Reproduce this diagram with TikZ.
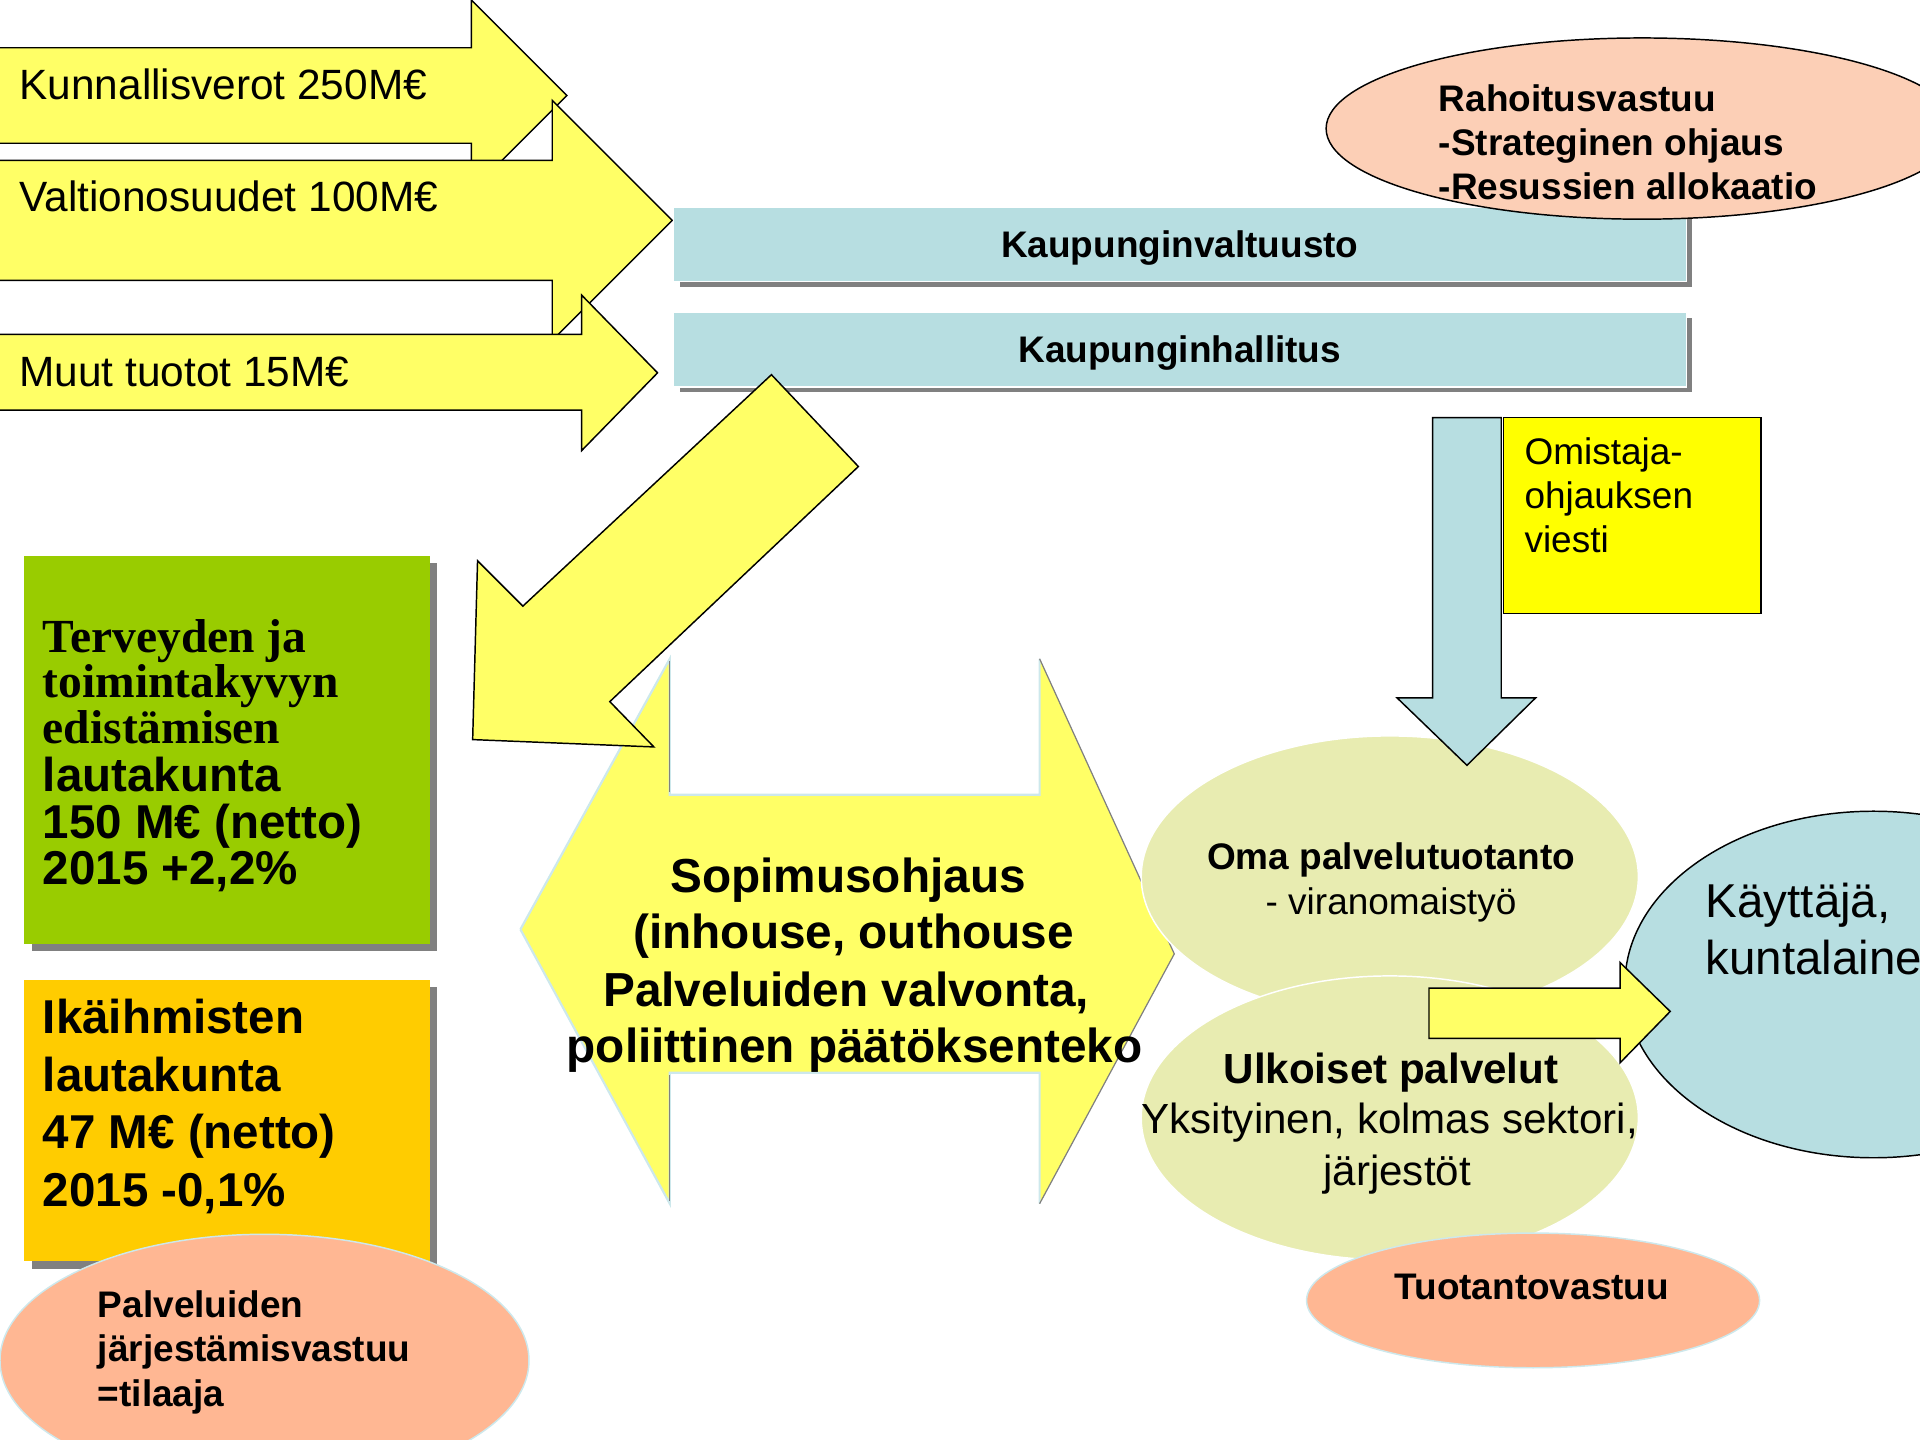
\documentclass[tikz,border=0pt]{standalone}
\usepackage{fontspec}
\setmainfont{Liberation Sans}
\newfontfamily\seriffam{Liberation Serif}
\definecolor{ylw}{HTML}{FFFF66}
\definecolor{lblue}{HTML}{B7DEE1}
\definecolor{shgrey}{HTML}{808080}
\definecolor{peach}{HTML}{FCCFB6}
\definecolor{salmon}{HTML}{FFB793}
\definecolor{pale}{HTML}{E8ECB1}
\definecolor{grn}{HTML}{99CC00}
\definecolor{orng}{HTML}{FFCC00}
\definecolor{pureyel}{HTML}{FFFF00}
\definecolor{edgeblue}{HTML}{CDE8EC}
\newcommand\fsz[2]{\fontsize{#1}{#2}\selectfont}
\tikzset{
  txt/.style={inner sep=0pt, outer sep=0pt},
  blockarrow/.style={fill=ylw, draw=black, line width=0.6pt, line join=miter},
  bluebox/.style={fill=lblue, draw=white, line width=0.5pt},
  shadowbox/.style={fill=shgrey},
  softedge/.style={draw=edgeblue, line width=0.9pt},
  greyedge/.style={draw=gray, line width=0.5pt},
  lightoutline/.style={draw=edgeblue, line width=0.6pt},
  bb/.style={txt, font=\bfseries\fsz{15.1pt}{18pt}},
  rr/.style={txt, font=\fsz{15.1pt}{18pt}},
  big/.style={txt, font=\bfseries\fsz{19.4pt}{23pt}},
  bigserif/.style={txt, font=\seriffam\bfseries\fsz{19.4pt}{23pt}},
}
\begin{document}
\begin{tikzpicture}[x=0.5pt,y=-0.5pt]
\useasboundingbox (0,0) rectangle (1568,1176);
\clip (0,0) rectangle (1568,1176);

% --- income arrows ---
\draw[blockarrow] (-2,39) -- (385,39) -- (385,0) -- (463,78) -- (385,156) -- (385,117) -- (-2,117) -- cycle;
\node[txt, anchor=base west, font=\fsz{17.3pt}{20pt}] (kv) at (16,81) {Kunnallisverot 250M€};
\draw[blockarrow] (-2,131) -- (451,131) -- (451,82) -- (549,180) -- (451,278) -- (451,229) -- (-2,229) -- cycle;
\node[txt, anchor=base west, font=\fsz{17.3pt}{20pt}] (vo) at (16,173) {Valtionosuudet 100M€};
\draw[blockarrow] (-2,273) -- (475,273) -- (475,241) -- (537,304.5) -- (475,368) -- (475,335) -- (-2,335) -- cycle;
\node[txt, anchor=base west, font=\fsz{17.3pt}{20pt}] (mt) at (16,316) {Muut tuotot 15M€};

% --- council boxes ---
\fill[shadowbox] (555,174) rectangle (1382,234);
\draw[bluebox] (550,169) rectangle (1377,230);
\node[bb, anchor=base] (kvalt) at (963.5,210) {Kaupunginvaltuusto};
\fill[shadowbox] (555,260) rectangle (1382,320);
\draw[bluebox] (550,255) rectangle (1377,316);
\node[bb, anchor=base] (khall) at (963.5,296) {Kaupunginhallitus};

% --- Rahoitusvastuu ellipse ---
\draw[fill=peach, draw=black, line width=0.6pt] (1341,105) ellipse [x radius=258, y radius=74];
\node[bb, anchor=base west] (rah1) at (1175,91) {Rahoitusvastuu};
\node[bb, anchor=base west] (rah2) at (1175,127) {-Strateginen ohjaus};
\node[bb, anchor=base west] (rah3) at (1175,163) {-Resussien allokaatio};

% --- double arrow (Sopimusohjaus) ---
\fill[ylw] (425,759) -- (547,538) -- (547,649) -- (849,649) -- (849,538) -- (959,779) -- (849,983) -- (849,876) -- (547,876) -- (547,983) -- cycle;
\draw[softedge] (425,759) -- (547,538) -- (547,649) -- (849,649) -- (849,538);
\draw[softedge] (849,983) -- (849,876) -- (547,876) -- (547,983) -- (425,759);
\draw[greyedge] (849,538) -- (959,779) -- (849,983);
\draw[greyedge] (547,540) -- (547,647);
\draw[greyedge] (547,878) -- (547,981);

% --- diagonal arrow ---
\draw[blockarrow] (630,306) -- (701,381) -- (498,573) -- (534,610) -- (386,604) -- (390,458) -- (427,495) -- cycle;

% --- committee boxes ---
\fill[shadowbox] (26,460) rectangle (357,777);
\fill[grn] (20,454) rectangle (351,771);
\node[bigserif, anchor=base west] (g1) at (35,533) {Terveyden ja};
\node[bigserif, anchor=base west] (g2) at (35,570) {toimintakyvyn};
\node[bigserif, anchor=base west] (g3) at (35,607) {edistämisen};
\node[big, anchor=base west] (g4) at (35,646) {lautakunta};
\node[big, anchor=base west] (g5) at (35,685) {150 M€ (netto)};
\node[big, anchor=base west] (g6) at (35,722) {2015 +2,2\%};

\fill[shadowbox] (26,806) rectangle (357,1036);
\fill[orng] (20,800) rectangle (351,1030);
\node[big, anchor=base west] (o1) at (35,844) {Ikäihmisten};
\node[big, anchor=base west] (o2) at (35,891) {lautakunta};
\node[big, anchor=base west] (o3) at (35,938) {47 M€ (netto)};
\node[big, anchor=base west] (o4) at (35,985) {2015 -0,1\%};

% --- Palveluiden järjestämisvastuu ellipse ---
\draw[fill=salmon, lightoutline] (216,1111) ellipse [x radius=216, y radius=103];
\node[bb, anchor=base west] (p1) at (80,1076) {Palveluiden};
\node[bb, anchor=base west] (p2) at (80,1112) {järjestämisvastuu};
\node[bb, anchor=base west] (p3) at (80,1149) {=tilaaja};

% --- service ellipses ---
\draw[fill=pale, draw=white, line width=0.6pt] (1135,716) ellipse [x radius=203, y radius=115];
\draw[fill=pale, draw=white, line width=0.6pt] (1135,913) ellipse [x radius=203, y radius=116];

% --- blue down arrow and Omistaja box ---
\draw[fill=lblue, draw=black, line width=0.6pt, line join=miter] (1170,341) -- (1226,341) -- (1226,570) -- (1254,570) -- (1198,625) -- (1141,570) -- (1170,570) -- cycle;
\draw[fill=pureyel, draw=black, line width=0.6pt] (1228,341) rectangle (1438,501);
\node[rr, anchor=base west] (om1) at (1245,379) {Omistaja-};
\node[rr, anchor=base west] (om2) at (1245,415) {ohjauksen};
\node[rr, anchor=base west] (om3) at (1245,451) {viesti};

% --- Käyttäjä ellipse ---
\draw[fill=lblue, draw=black, line width=0.6pt] (1530,804) ellipse [x radius=203, y radius=141.5];
\node[txt, anchor=base west, font=\fsz{19.4pt}{23pt}] (k1) at (1393,749) {Käyttäjä,};
\node[txt, anchor=base west, font=\fsz{19.4pt}{23pt}] (k2) at (1393,796) {kuntalainen};

% --- small yellow arrow ---
\draw[blockarrow] (1167,807) -- (1323,807) -- (1323,786) -- (1364,826) -- (1323,868) -- (1323,848) -- (1167,848) -- cycle;

% --- Tuotantovastuu ellipse ---
\draw[fill=salmon, lightoutline] (1252,1062) ellipse [x radius=185, y radius=55];
\node[bb, anchor=base] (tv) at (1251,1061) {Tuotantovastuu};

% --- service texts ---
\node[bb, anchor=base] (op1) at (1136,710) {Oma palvelutuotanto};
\node[rr, anchor=base] (op2) at (1136,747) {- viranomaistyö};
\node[txt, anchor=base, font=\bfseries\fsz{17.2pt}{20pt}] (u1) at (1136,885) {Ulkoiset palvelut};
\node[txt, anchor=base, font=\fsz{17.2pt}{20pt}] (u2) at (1135,926) {Yksityinen, kolmas sektori,};
\node[txt, anchor=base, font=\fsz{17.2pt}{20pt}] (u3) at (1141,968) {järjestöt};

% --- Sopimusohjaus texts ---
\node[txt, anchor=base, font=\bfseries\fsz{19.5pt}{23pt}] (s1) at (692.5,729) {Sopimusohjaus};
\node[txt, anchor=base, font=\bfseries\fsz{19.5pt}{23pt}] (s2) at (697,775) {(inhouse, outhouse};
\node[txt, anchor=base, font=\bfseries\fsz{19.5pt}{23pt}] (s3) at (691,822) {Palveluiden valvonta,};
\node[txt, anchor=base, font=\bfseries\fsz{19.5pt}{23pt}] (s4) at (698,868) {poliittinen päätöksenteko};
\end{tikzpicture}
\end{document}
